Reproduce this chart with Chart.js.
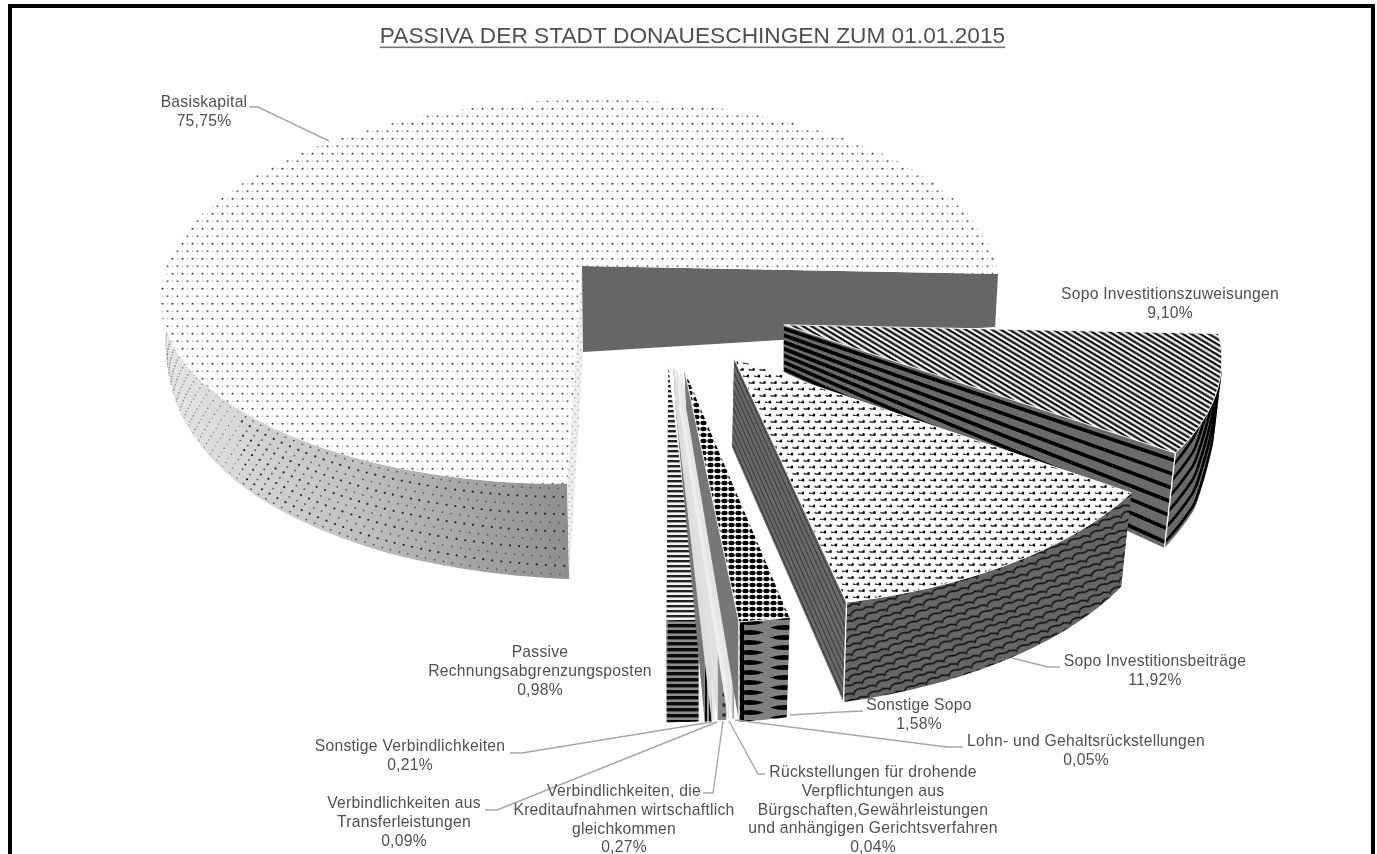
<!DOCTYPE html>
<html><head><meta charset="utf-8">
<style>html,body{margin:0;padding:0;background:#fff}canvas{display:block;filter:blur(0.6px)}</style>
<script src="https://cdn.jsdelivr.net/npm/chart.js@4"></script>
</head><body><canvas id="c" width="1377" height="854"></canvas>
<script>
const titleText = 'PASSIVA DER STADT DONAUESCHINGEN ZUM 01.01.2015';
const categories = ['Basiskapital','Sopo Investitionszuweisungen','Sopo Investitionsbeiträge','Sonstige Sopo','Lohn- und Gehaltsrückstellungen','Rückstellungen für drohende Verpflichtungen aus Bürgschaften,Gewährleistungen und anhängigen Gerichtsverfahren','Verbindlichkeiten, die Kreditaufnahmen wirtschaftlich gleichkommen','Verbindlichkeiten aus Transferleistungen','Sonstige Verbindlichkeiten','Passive Rechnungsabgrenzungsposten'];
const values = [75.75,9.10,11.92,1.58,0.05,0.04,0.27,0.09,0.21,0.98];

const labelLines = [
 ['Basiskapital'],['Sopo Investitionszuweisungen'],['Sopo Investitionsbeiträge'],['Sonstige Sopo'],['Lohn- und Gehaltsrückstellungen'],
 ['Rückstellungen für drohende','Verpflichtungen aus','Bürgschaften,Gewährleistungen','und anhängigen Gerichtsverfahren'],
 ['Verbindlichkeiten, die','Kreditaufnahmen wirtschaftlich','gleichkommen'],['Verbindlichkeiten aus','Transferleistungen'],['Sonstige Verbindlichkeiten'],['Passive','Rechnungsabgrenzungsposten']];
const labelAnchor = [[204,103],[1170,295],[1155,662],[919,706],[1086,742],[873,773],[624,792],[404,804],[410,747],[540,653]];
const leaders = [
 [[249,107],[258,107],[329,141]],null,[[1060,667],[1048,667],[1012,658]],[[863,711],[840,712],[790,715]],[[963,747],[947,747],[735,720]],
 [[765,774],[758,774],[729,721]],[[703,793],[713,793],[723,721]],[[485,810],[497,810],[717,722]],[[510,753],[522,753],[712,722]],null];

/* projection of the pie plane (camera fitted to the picture) */
const cam = {ox:582,oy:266,A:414,B:-32.7,C:8,E:188.6,G:-0.005,H:-0.134};
/* explosion of every slice on the pie plane */
const shifts = [[0,0],[0.49,0.279],[0.38,0.444],[0.27,0.50],[0.26,0.49],[0.254,0.49],[0.251,0.49],[0.245,0.49],[0.245,0.49],[0.233,0.49]];
/* extrusion: apex vector, rim stops [t,dx,dy] */
const depths = [
 {apex:[1,86],rim:[[0,2,95],[.084,0,87],[.157,0,77],[.23,5,66],[.27,7,62],[.33,3,40],[1,-3,53]]},
 {apex:[0,47],rim:[[0,0,0],[.4,0,8],[.5,-3,50],[.75,-6,85],[1,-11,95]]},
 {apex:[-2,89],rim:[[0,-10,94],[1,-3,100]]},
 {apex:[2,40],rim:[[0,-3,100],[1,0,100]]},
 {apex:[2,40],rim:[[0,0,100],[1,0,100]]},
 {apex:[2,40],rim:[[0,0,100],[1,0,100]]},
 {apex:[2,40],rim:[[0,0,101],[1,0,101]]},
 {apex:[2,40],rim:[[0,0,101],[1,0,101]]},
 {apex:[2,40],rim:[[0,0,102],[1,0,102]]},
 {apex:[2,40],rim:[[0,0,102],[1,0,102]]}];

function tile(w,h,paint){const c=document.createElement('canvas');c.width=w;c.height=h;paint(c.getContext('2d'),w,h);return c;}
function pat(ctx,w,h,paint,m){const p=ctx.createPattern(tile(w,h,paint),'repeat');if(m)p.setTransform(m);return p;}
function dot(g,x,y,r,col){g.fillStyle=col;g.beginPath();g.arc(x,y,r,0,7);g.fill();}

function buildStyles(ctx){
 const rot=(d,tx=0,ty=0)=>new DOMMatrix().translate(tx,ty).rotate(d);
 const basisTop=pat(ctx,10,15,(g,w,h)=>{g.fillStyle='#fff';g.fillRect(0,0,w,h);dot(g,2.5,3.7,1.05,'#444');dot(g,7.5,11.2,1.05,'#666');dot(g,7.5,3.7,.75,'#bbb');dot(g,2.5,11.2,.75,'#bbb');});
 const zuwTop=pat(ctx,12,9,(g,w,h)=>{g.fillStyle='#fff';g.fillRect(0,0,w,h);g.fillStyle='#0a0a0a';g.fillRect(0,0,w,2.25);g.fillRect(0,4.5,w,2.25);},rot(31));
 const beiTop=pat(ctx,11,13,(g,w,h)=>{g.fillStyle='#fff';g.fillRect(0,0,w,h);
   const a=(x,y)=>{g.strokeStyle='#444';g.lineWidth=1.6;g.beginPath();g.arc(x,y,3.2,.3,2.4);g.stroke();};
   for(const [x,y] of [[3,3],[8.5,9.5],[-2.5,9.5],[14,3]])a(x,y);
   dot(g,5.6,5.8,1.2,'#000');dot(g,11,12.3,1.2,'#000');dot(g,0,12.3,1.2,'#000');dot(g,11,-.7,1.2,'#000');dot(g,0,-.7,1.2,'#000');});
 const beiWall=pat(ctx,24,30,(g,w,h)=>{g.fillStyle='#666';g.fillRect(0,0,w,h);g.strokeStyle='#0c0c0c';g.lineWidth=1.4;
   const s=(x,y)=>{g.beginPath();g.moveTo(x,y+5);g.quadraticCurveTo(x+3,y-1,x+10,y+1);g.quadraticCurveTo(x+14,y+3,x+18,y+1);g.lineTo(x+24,y+3);g.stroke();};
   for(const [x,y] of [[0,3],[12,10.5],[-12,10.5],[0,18],[12,25.5],[-12,25.5],[-24,3],[24,3],[-24,18],[24,18],[0,-12],[12,-4.5],[-12,-4.5]])s(x,y);},rot(-20));
 const ssTop=pat(ctx,7,6,(g,w,h)=>{g.fillStyle='#fff';g.fillRect(0,0,w,h);g.fillStyle='#000';g.beginPath();g.ellipse(3.5,3,3.1,2.2,0,0,7);g.fill();});
 const ssWall=pat(ctx,50,10,(g,w,h)=>{g.fillStyle='#808080';g.fillRect(0,0,w,h);g.fillStyle='#000';
   const lens=(x0,x1,y)=>{g.beginPath();g.moveTo(x0,y);g.quadraticCurveTo((x0+x1)/2,y-5,x1,y);g.quadraticCurveTo((x0+x1)/2,y+5,x0,y);g.fill();};
   lens(-6,22,2.5);lens(-6,22,12.5);lens(28,56,7.5);lens(28,56,-2.5);g.fillRect(0,0,2,h);g.fillRect(48,0,2,h);},rot(0,742,0));
 const praTop=pat(ctx,4,5,(g,w,h)=>{g.fillStyle='#f4f4f4';g.fillRect(0,0,w,h);g.fillStyle='#222';g.fillRect(0,0,w,2.4);});
 const praWall=pat(ctx,4,6,(g,w,h)=>{g.fillStyle='#8c8c8c';g.fillRect(0,0,w,h);g.fillStyle='#0a0a0a';g.fillRect(0,0,w,3.4);});
 const speck=pat(ctx,6,9,(g,w,h)=>{g.fillStyle='#f6f6f6';g.fillRect(0,0,w,h);dot(g,2,2,.8,'#aaa');dot(g,4.5,6.5,.8,'#bbb');});
 const swirl=pat(ctx,6,14,(g,w,h)=>{g.fillStyle='#eee';g.fillRect(0,0,w,h);dot(g,3,4,1.6,'#222');dot(g,3,10,1,'#777');});
 const svWall=pat(ctx,6,4,(g,w,h)=>{g.fillStyle='#0d0d0d';g.fillRect(0,0,w,h);g.fillStyle='#a0a0a0';g.fillRect(0,0,2,h);},rot(0,707,0));
 const vkWall=pat(ctx,8,10,(g,w,h)=>{g.fillStyle='#8a8a8a';g.fillRect(0,0,w,h);dot(g,4,5,1.9,'#333');},rot(0,720,0));
 const lightWall=pat(ctx,3,5,(g,w,h)=>{g.fillStyle='#e6e6e6';g.fillRect(0,0,w,h);dot(g,1.5,2,.7,'#999');});
 const edgeDots=pat(ctx,6,8,(g,w,h)=>{g.fillStyle='#eee';g.fillRect(0,0,w,h);dot(g,2,2,.8,'#999');dot(g,5,6,.8,'#aaa');});
 return [
  {top:basisTop,wall:'gradient',edgeStart:edgeDots,edgeEnd:'#666666',dots:true,tMax:.36},
  {top:zuwTop,wall:'#6a6a6a',edge:'#6a6a6a',bands:{n:7,col:'#000',w:3.6,rimW:2.6,step:13.5}},
  {top:beiTop,wall:beiWall,edge:'#6a6a6a',edgeBands:{n:10,col:'#3e3e3e',w:1.2}},
  {top:ssTop,wall:ssWall,edge:'#777'},
  {top:speck,wall:'#9a9a9a',edge:'#e6e6e6'},
  {top:speck,wall:lightWall,edge:'#eeeeee'},
  {top:speck,wall:vkWall,edge:'#e0e0e0'},
  {top:swirl,wall:'#e8e8e8',edge:'#ddd'},
  {top:swirl,wall:svWall,edge:'#777'},
  {top:praTop,wall:praWall,edge:'#999'}];
}

function project(x,y){const w=1+cam.G*x+cam.H*y;return [cam.ox+(cam.A*x+cam.B*y)/w,cam.oy+(cam.C*x+cam.E*y)/w];}
function lerpStops(st,t){for(let k=1;k<st.length;k++){if(t<=st[k][0]){const a=st[k-1],b=st[k],f=(t-a[0])/(b[0]-a[0]);return [a[1]+(b[1]-a[1])*f,a[2]+(b[2]-a[2])*f];}}const l=st[st.length-1];return [l[1],l[2]];}

function sliceGeom(el,i){
 const a0=el.startAngle,a1=el.endAngle,s=shifts[i],d=depths[i];
 const rimT=t=>{const a=a0+(a1-a0)*t;return project(s[0]+Math.cos(a),s[1]+Math.sin(a));};
 const rimB=t=>{const p=rimT(t),q=lerpStops(d.rim,t);return [p[0]+q[0],p[1]+q[1]];};
 const apT=project(s[0],s[1]),apB=[apT[0]+d.apex[0],apT[1]+d.apex[1]];
 const n=Math.max(6,Math.round((a1-a0)*60));
 const ts=[];for(let k=0;k<=n;k++)ts.push(k/n);
 return {rimT,rimB,apT,apB,ts};
}
function poly(ctx,pts){ctx.beginPath();pts.forEach((p,k)=>k?ctx.lineTo(p[0],p[1]):ctx.moveTo(p[0],p[1]));ctx.closePath();}
function mix(a,b,f){return [a[0]+(b[0]-a[0])*f,a[1]+(b[1]-a[1])*f];}

function drawSlice(ctx,el,i,st){
 const g=sliceGeom(el,i),{rimT,rimB,apT,apB,ts}=g;
 const edgeQuad=t=>[apT,rimT(t),rimB(t),apB];
 const edgeFill=(t,fill)=>{poly(ctx,edgeQuad(t));ctx.fillStyle=fill;ctx.fill();};
 if(i>0)edgeFill(0,st.edge);
 /* rim wall */
 const wt=st.tMax?ts.filter(t=>t<=st.tMax):ts;
 const wallPts=[...wt.map(rimT),...wt.slice().reverse().map(rimB)];
 poly(ctx,wallPts);
 if(st.wall==='gradient'){const lg=ctx.createLinearGradient(165,0,569,0);lg.addColorStop(0,'#e6e6e6');lg.addColorStop(.5,'#bdbdbd');lg.addColorStop(1,'#8e8e8e');ctx.fillStyle=lg;}
 else ctx.fillStyle=st.wall;
 ctx.fill();
 if(st.dots){ctx.save();poly(ctx,wallPts);ctx.clip();
  const rows=11,space=9;
  for(let r=0;r<rows;r++){const v=(r+.5)/rows;let acc=(r%2)*space/2,last=mix(rimT(0),rimB(0),v);
   for(let t=0;t<st.tMax;t+=.0004){const p=mix(rimT(t),rimB(t),v);acc+=Math.hypot(p[0]-last[0],p[1]-last[1]);last=p;
    if(acc>=space){acc-=space;const far=p[0]<240;ctx.fillStyle=far?(r%2?'#777':'#999'):(r%2?'#222':'#555');ctx.beginPath();ctx.arc(p[0],p[1],far?.8:(r%2?1.1:.9),0,7);ctx.fill();}}}
  ctx.restore();}
 if(st.bands){ctx.save();poly(ctx,wallPts);ctx.clip();ctx.strokeStyle=st.bands.col;ctx.lineWidth=st.bands.rimW;
  for(let b=0;b<st.bands.n+2;b++){ctx.beginPath();ts.forEach((t,k)=>{const p=rimB(t);const y=p[1]-(b+.4)*st.bands.step;k?ctx.lineTo(p[0],y):ctx.moveTo(p[0],y);});ctx.stroke();}
  ctx.restore();}
 if(i===0){edgeFill(0,st.edgeStart);edgeFill(1,st.edgeEnd);}
 else{edgeFill(1,st.edge);
  const eb=st.bands||st.edgeBands;
  if(eb){ctx.save();poly(ctx,edgeQuad(1));ctx.clip();ctx.strokeStyle=eb.col;ctx.lineWidth=eb.w;
   for(let b=0;b<eb.n;b++){const v=(b+.55)/eb.n,p=mix(apT,apB,v),q=mix(rimT(1),rimB(1),v);ctx.beginPath();ctx.moveTo(p[0],p[1]);ctx.lineTo(q[0],q[1]);ctx.stroke();}
   ctx.restore();}
  if(i<=3){ctx.strokeStyle='#fff';ctx.lineWidth=1.3;ctx.beginPath();const a=rimT(1),b=rimB(1);ctx.moveTo(a[0],a[1]);ctx.lineTo(b[0],b[1]);ctx.stroke();}
 }
 /* top face */
 poly(ctx,[apT,...ts.map(rimT)]);ctx.fillStyle=st.top;ctx.fill();
 if(i>0&&i<=3){ctx.strokeStyle='rgba(255,255,255,.9)';ctx.lineWidth=1;ctx.stroke();}
}

const pie3d={id:'pie3d',
 beforeDatasetDraw(chart){
  const ctx=chart.ctx,meta=chart.getDatasetMeta(0);
  if(!chart.$styles)chart.$styles=buildStyles(ctx);
  ctx.save();
  [0,1,2,9,8,7,6,5,4,3].forEach(i=>drawSlice(ctx,meta.data[i],i,chart.$styles[i]));
  ctx.restore();
  return false;
 },
 afterDraw(chart){
  const ctx=chart.ctx;ctx.save();
  ctx.fillStyle='#000';ctx.fillRect(8,4,4,850);ctx.fillRect(8,4,1367,4);ctx.fillRect(1371,4,4,850);
  const tb=chart.titleBlock;ctx.font=tb.options.font.size+'px "Liberation Sans"';
  const tw=ctx.measureText(titleText).width,cx=tb.left+tb.width/2;
  ctx.fillStyle='#777';ctx.fillRect(cx-tw/2,46.5,tw,1.6);
  ctx.strokeStyle='#a8a8a8';ctx.lineWidth=1.4;
  leaders.forEach(l=>{if(!l)return;ctx.beginPath();l.forEach((p,k)=>k?ctx.lineTo(p[0],p[1]):ctx.moveTo(p[0],p[1]));ctx.stroke();});
  ctx.font='15.7px "Liberation Sans"';ctx.fillStyle='#505050';ctx.textAlign='center';ctx.textBaseline='middle';
  if('letterSpacing' in ctx)ctx.letterSpacing='0.25px';
  labelLines.forEach((ls,i)=>{const pct=values[i].toFixed(2).replace('.',',')+'%',[x,y]=labelAnchor[i];
   [...ls,pct].forEach((t,k)=>ctx.fillText(t,x,y+k*18.6));});
  ctx.restore();
 }};

new Chart(document.getElementById('c'),{
 type:'pie',
 data:{labels:categories,datasets:[{data:values,borderWidth:0,backgroundColor:'#888'}]},
 plugins:[pie3d],
 options:{responsive:false,animation:false,rotation:177.26,
  layout:{padding:{left:8}},
  plugins:{legend:{display:false},tooltip:{enabled:false},
   title:{display:true,text:titleText,color:'#505050',font:{family:'"Liberation Sans"',size:22.7,weight:'normal'},padding:{top:23,bottom:8}}}}
});
</script></body></html>
